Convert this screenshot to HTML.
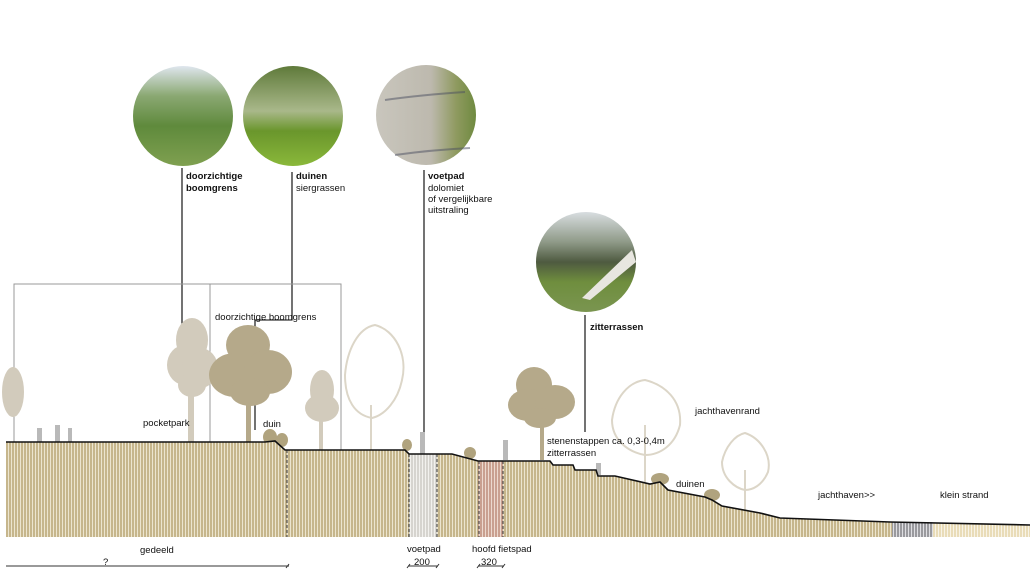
<!DOCTYPE html>
<html><head><meta charset="utf-8"><style>
html,body{margin:0;padding:0;background:#fff;}
svg{display:block;font-family:"Liberation Sans",sans-serif;}
</style></head><body>
<svg width="1033" height="579" viewBox="0 0 1033 579" xmlns="http://www.w3.org/2000/svg">
<defs>
<pattern id="tan" width="3" height="10" patternUnits="userSpaceOnUse"><rect width="3" height="10" fill="#c6b68c"/><rect x="2" width="1" height="10" fill="#ece5cf"/></pattern>
<pattern id="gray" width="3" height="10" patternUnits="userSpaceOnUse"><rect width="3" height="10" fill="#d6d4cf"/><rect x="2" width="1" height="10" fill="#f2f1ee"/></pattern>
<pattern id="pink" width="3" height="10" patternUnits="userSpaceOnUse"><rect width="3" height="10" fill="#c9a090"/><rect x="2" width="1" height="10" fill="#ecd9cf"/></pattern>
<pattern id="dgray" width="3" height="10" patternUnits="userSpaceOnUse"><rect width="3" height="10" fill="#9a9a9e"/><rect x="2" width="1" height="10" fill="#dedee2"/></pattern>
<pattern id="cream" width="3" height="10" patternUnits="userSpaceOnUse"><rect width="3" height="10" fill="#e9dcb8"/><rect x="2" width="1" height="10" fill="#f8f3e6"/></pattern>
<linearGradient id="p1s" x1="0" y1="0" x2="0" y2="1"><stop offset="0" stop-color="#dfe6ee"/><stop offset=".3" stop-color="#8aa872"/><stop offset=".6" stop-color="#5f8a3c"/><stop offset="1" stop-color="#7fa050"/></linearGradient>
<linearGradient id="p2s" x1="0" y1="0" x2="0" y2="1"><stop offset="0" stop-color="#5f7a3a"/><stop offset=".45" stop-color="#a9b88a"/><stop offset=".65" stop-color="#6a962c"/><stop offset="1" stop-color="#8ab83a"/></linearGradient>
<linearGradient id="p3s" x1="0" y1="0" x2="1" y2="0"><stop offset="0" stop-color="#c9c6bd"/><stop offset=".55" stop-color="#bdb9ae"/><stop offset=".8" stop-color="#8f9a60"/><stop offset="1" stop-color="#6f8a40"/></linearGradient>
<linearGradient id="p4s" x1="0" y1="0" x2="0" y2="1"><stop offset="0" stop-color="#d8dde0"/><stop offset=".3" stop-color="#8f9a88"/><stop offset=".5" stop-color="#4e5a40"/><stop offset=".7" stop-color="#6f8e3e"/><stop offset="1" stop-color="#7a9550"/></linearGradient>
</defs>

<circle cx="183" cy="116" r="50" fill="url(#p1s)"/>
<circle cx="293" cy="116" r="50" fill="url(#p2s)"/>
<circle cx="426" cy="115" r="50" fill="url(#p3s)"/>
<path d="M385 100 Q420 95 465 92 M395 155 Q430 150 470 148" stroke="#4a4e60" stroke-width="2" fill="none" opacity=".5"/>
<circle cx="586" cy="262" r="50" fill="url(#p4s)"/>
<path d="M582 298 L632 250 L636 262 L590 300 Z" fill="#e8e6e0"/>

<g stroke="#000" stroke-width="1.1" fill="none">
<line x1="182" y1="168" x2="182" y2="389"/>
<polyline points="292,172 292,320 255,320 255,430"/>
<line x1="424" y1="170" x2="424" y2="440"/>
<line x1="585" y1="315" x2="585" y2="432"/>
</g>
<g stroke="#999" stroke-width="1" fill="none">
<polyline points="14,443 14,284 341,284 341,450"/>
<line x1="210" y1="284" x2="210" y2="442"/>
</g>

<!-- light trees -->
<g fill="#d2cbbc">
<ellipse cx="13" cy="392" rx="11" ry="25"/>
<ellipse cx="192" cy="340" rx="16" ry="22"/><ellipse cx="185" cy="365" rx="18" ry="20"/><ellipse cx="200" cy="368" rx="18" ry="20"/><ellipse cx="192" cy="385" rx="14" ry="12"/><rect x="188" y="385" width="6" height="57"/>
<ellipse cx="322" cy="390" rx="12" ry="20"/><ellipse cx="322" cy="408" rx="17" ry="14"/><rect x="319" y="415" width="4" height="35"/>
</g>
<!-- dark trees -->
<g fill="#b5a98a">
<ellipse cx="248" cy="345" rx="22" ry="20"/><ellipse cx="235" cy="375" rx="26" ry="22"/><ellipse cx="268" cy="372" rx="24" ry="22"/><ellipse cx="250" cy="392" rx="20" ry="14"/><rect x="246" y="390" width="5" height="52"/>
<ellipse cx="534" cy="385" rx="18" ry="18"/><ellipse cx="528" cy="405" rx="20" ry="16"/><ellipse cx="555" cy="402" rx="20" ry="17"/><ellipse cx="540" cy="418" rx="16" ry="10"/><rect x="540" y="415" width="4" height="45"/>
</g>
<!-- outline trees -->
<g fill="none" stroke="#dcd6c8" stroke-width="2">
<path d="M375 325 C395 330 408 355 402 380 C398 400 385 415 372 418 C355 415 345 400 345 375 C347 350 358 328 375 325Z"/><line x1="371" y1="405" x2="371" y2="450"/>
<path d="M645 380 C665 385 682 400 680 425 C675 445 660 455 645 455 C628 452 612 440 612 420 C615 398 628 382 645 380Z"/><line x1="645" y1="425" x2="645" y2="482"/>
<path d="M745 433 C760 438 772 455 768 472 C762 486 752 490 745 490 C735 488 722 478 722 462 C725 447 735 435 745 433Z"/><line x1="745" y1="470" x2="745" y2="512"/>
</g>
<g fill="#b9b9b9">
<rect x="37" y="428" width="5" height="14"/><rect x="55" y="425" width="5" height="17"/><rect x="68" y="428" width="4" height="14"/>
<rect x="420" y="432" width="5" height="22"/><rect x="503" y="440" width="5" height="20"/><rect x="596" y="463" width="5" height="12"/>
</g>
<g fill="#b0a37e">
<ellipse cx="270" cy="437" rx="7" ry="8"/><ellipse cx="282" cy="440" rx="6" ry="7"/>
<ellipse cx="407" cy="445" rx="5" ry="6"/><ellipse cx="470" cy="453" rx="6" ry="6"/>
<ellipse cx="660" cy="479" rx="9" ry="6"/><ellipse cx="712" cy="495" rx="8" ry="6"/>
</g>

<path d="M6 442 L265 442 L275 441 L285 450 L405 450 L409 454 L452 454 L478 461 L550 461 L553 465 L573 465 L575 470 L596 470 L598 476 L615 476 L650 484 L660 482 L668 490 L705 497 L712 500 L722 506 L760 513 L780 518 L890 522 L1030 525 L1030 537 L6 537 Z" fill="url(#tan)"/>
<rect x="409" y="454" width="28" height="83" fill="url(#gray)"/>
<rect x="478" y="461" width="25" height="76" fill="url(#pink)"/>
<rect x="892" y="522" width="41" height="15" fill="url(#dgray)"/>
<path d="M933 523 L1030 525 L1030 537 L933 537 Z" fill="url(#cream)"/>
<g stroke="#333" stroke-width="1" stroke-dasharray="3,2">
<line x1="287" y1="450" x2="287" y2="537"/><line x1="409" y1="454" x2="409" y2="537"/><line x1="437" y1="454" x2="437" y2="537"/>
<line x1="479" y1="461" x2="479" y2="537"/><line x1="503" y1="461" x2="503" y2="537"/>
</g>
<polyline points="6,442 265,442 275,441 285,450 405,450 409,454 452,454 478,461 550,461 553,465 573,465 575,470 596,470 598,476 615,476 650,484 660,482 668,490 705,497 712,500 722,506 760,513 780,518 890,522 1030,525" fill="none" stroke="#111" stroke-width="1.6"/>

<g stroke="#333" stroke-width="1" fill="none">
<line x1="6" y1="566" x2="289" y2="566"/><line x1="286" y1="568" x2="289" y2="564"/>
<line x1="408" y1="566" x2="438" y2="566"/><line x1="407" y1="568" x2="410" y2="564"/><line x1="436" y1="568" x2="439" y2="564"/>
<line x1="478" y1="566" x2="504" y2="566"/><line x1="477" y1="568" x2="480" y2="564"/><line x1="502" y1="568" x2="505" y2="564"/>
</g>

<g font-size="9.5" fill="#111">
<text x="186" y="179" font-weight="bold">doorzichtige</text>
<text x="186" y="191" font-weight="bold">boomgrens</text>
<text x="296" y="179" font-weight="bold">duinen</text>
<text x="296" y="191">siergrassen</text>
<text x="428" y="179" font-weight="bold">voetpad</text>
<text x="428" y="191">dolomiet</text>
<text x="428" y="202">of vergelijkbare</text>
<text x="428" y="213">uitstraling</text>
<text x="590" y="330" font-weight="bold">zitterrassen</text>
<text x="215" y="320">doorzichtige boomgrens</text>
<text x="143" y="426">pocketpark</text>
<text x="263" y="427">duin</text>
<text x="547" y="444">stenenstappen ca. 0,3-0,4m</text>
<text x="547" y="456">zitterrassen</text>
<text x="695" y="414">jachthavenrand</text>
<text x="676" y="487">duinen</text>
<text x="818" y="498">jachthaven&gt;&gt;</text>
<text x="940" y="498">klein strand</text>
<text x="140" y="553">gedeeld</text>
<text x="103" y="565">?</text>
<text x="407" y="552">voetpad</text>
<text x="414" y="565">200</text>
<text x="472" y="552">hoofd fietspad</text>
<text x="481" y="565">320</text>
</g>
</svg>
</body></html>
